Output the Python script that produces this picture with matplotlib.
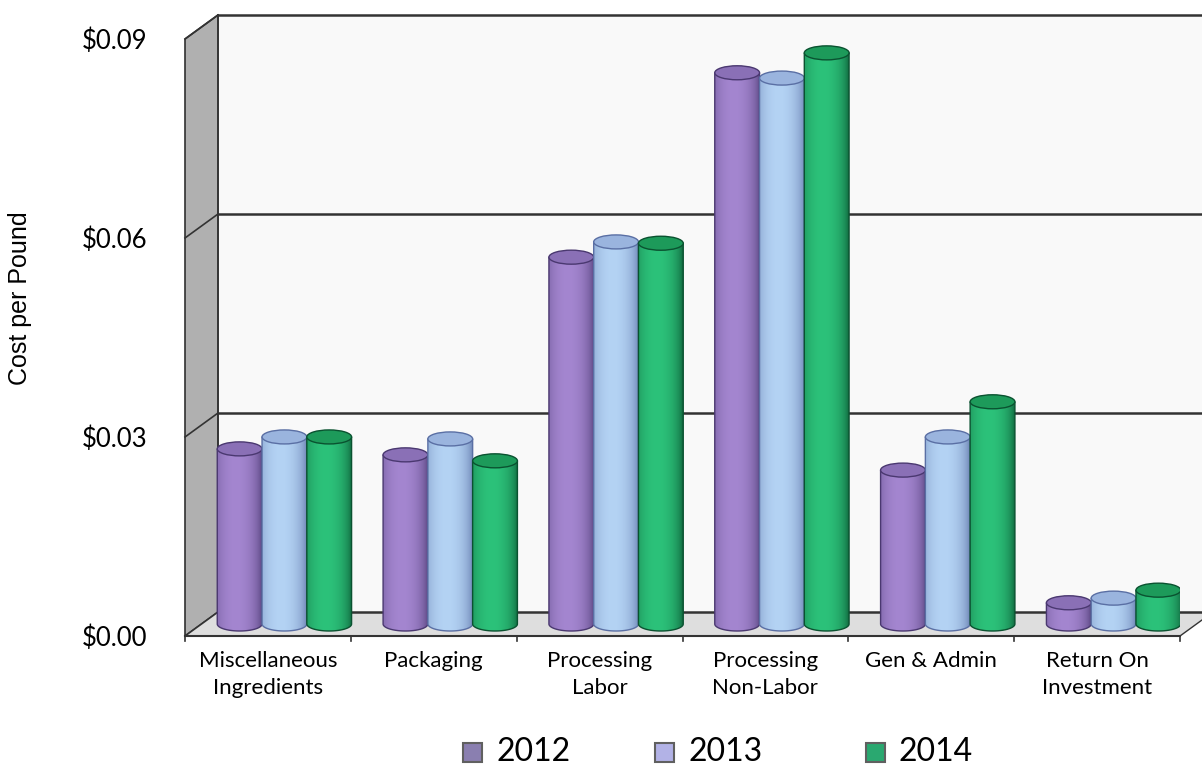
import matplotlib
matplotlib.use("Agg")
import matplotlib.pyplot as plt
import numpy as np
from matplotlib.patches import Polygon, Ellipse, PathPatch, Rectangle
from matplotlib.path import Path
from matplotlib.colors import to_rgb

categories = ["Miscellaneous\nIngredients", "Packaging", "Processing\nLabor",
              "Processing\nNon-Labor", "Gen & Admin", "Return On\nInvestment"]
years = ["2012", "2013", "2014"]
cost_2012 = [0.0264, 0.0255, 0.0553, 0.0831, 0.0232, 0.0032]
cost_2013 = [0.0282, 0.0279, 0.0576, 0.0823, 0.0282, 0.0039]
cost_2014 = [0.0282, 0.0246, 0.0574, 0.0861, 0.0335, 0.0051]
yticks = [0.0, 0.03, 0.06, 0.09]
ytick_labels = ["$0.00", "$0.03", "$0.06", "$0.09"]

series = [cost_2012, cost_2013, cost_2014]
dark_cols = ["#4a3870", "#5a6fa4", "#0a5230"]
light_cols = ["#a486d0", "#b4d3f4", "#2cc27a"]
top_cols = ["#8a70b6", "#9ab4de", "#1d9a5a"]
legend_cols = ["#8a7fb0", "#b2b2e6", "#2aa870"]

W, H = 1202, 780
plt.rcParams['font.family'] = ['Lato', 'DejaVu Sans']
fig = plt.figure(figsize=(W / 100, H / 100), dpi=100)
ax = fig.add_axes([185 / W, 144 / H, 995 / W, 597 / H])
ymax = 0.09
ax.set_xlim(0, 6)
ax.set_ylim(0, ymax)

# depth of the 3d box, in data units
DX = 6 * 33 / 995
DY = ymax * 24 / 597
ell_h = ymax * 14 / 597

# back wall, side wall and floor
ax.add_patch(Polygon([(DX, DY), (6 + DX, DY), (6 + DX, ymax + DY), (DX, ymax + DY)],
                     closed=True, fc="#f9f9f9", ec="none", zorder=1, clip_on=False))
ax.add_patch(Polygon([(0, 0), (DX, DY), (DX, ymax + DY), (0, ymax)],
                     closed=True, fc="#b0b0b0", ec="#303030", lw=1.2, zorder=1.2, clip_on=False))
ax.add_patch(Polygon([(0, 0), (6, 0), (6 + DX, DY), (DX, DY)],
                     closed=True, fc="#dedede", ec="none", zorder=1.3, clip_on=False))
for v in yticks:
    ax.plot([DX, 6 + DX], [v + DY, v + DY], color="#333333", lw=1.8, zorder=1.5, clip_on=False)
    ax.plot([0, DX], [v, v + DY], color="#333333", lw=1.2, zorder=1.5, clip_on=False)
ax.plot([DX, DX], [DY, ymax + DY], color="#333333", lw=1.2, zorder=1.5, clip_on=False)
ax.plot([0, 6], [0, 0], color="#333333", lw=1.5, zorder=1.6, clip_on=False)
ax.plot([6, 6 + DX], [0, DY], color="#333333", lw=1.0, zorder=1.6, clip_on=False)
for k in range(7):
    ax.plot([k, k], [0, -ymax * 5 / 597], color="#333333", lw=1.2, zorder=1.6, clip_on=False)

# cylinders
bar_w = 0.27
t = np.linspace(0, 1, 64)
shade = np.clip(1 - ((t - 0.42) / 0.6) ** 2, 0, 1) ** 0.55
theta = np.linspace(np.pi, 2 * np.pi, 40)
for j, vals in enumerate(series):
    d = np.array(to_rgb(dark_cols[j]))
    l = np.array(to_rgb(light_cols[j]))
    grad = d[None, :] + (l - d)[None, :] * shade[:, None]
    for i, v in enumerate(vals):
        xc = i + 0.5 + (j - 1) * bar_w + DX / 2
        xl, xr = xc - bar_w / 2, xc + bar_w / 2
        y0 = DY / 2
        top = v + DY / 2
        bx = xc + bar_w / 2 * np.cos(theta)
        by = y0 + ell_h / 2 * np.sin(theta)
        verts = [(xl, top)] + list(zip(bx, by)) + [(xr, top), (xl, top)]
        body = PathPatch(Path(verts, closed=True), fc="none", ec=dark_cols[j],
                         lw=1.0, zorder=3 + i * 0.1 + j * 0.01, transform=ax.transData)
        im = ax.imshow(grad[None, :, :], extent=(xl, xr, y0 - ell_h, top), aspect="auto",
                       interpolation="bilinear", zorder=3 + i * 0.1 + j * 0.01)
        im.set_clip_path(body)
        ax.add_patch(body)
        ax.add_patch(Ellipse((xc, top), bar_w, ell_h, fc=top_cols[j], ec=dark_cols[j],
                             lw=1.0, zorder=3.005 + i * 0.1 + j * 0.01))

ax.set_xlim(0, 6)
ax.set_ylim(0, ymax)
for s in ax.spines.values():
    s.set_visible(False)
ax.set_yticks(yticks)
ax.set_yticklabels(ytick_labels, fontsize=18.5)
ax.set_xticks(np.arange(6) + 0.5)
ax.set_xticklabels(categories, fontsize=16, linespacing=1.4)
ax.tick_params(axis="y", length=0, pad=27)
ax.tick_params(axis="x", length=0, pad=11)
fig.text(20 / W, 1 - 298 / H, "Cost per Pound", rotation=90, ha="center", va="center",
         fontsize=18, family=["Liberation Sans"])

# legend
sq_x = [463, 655, 866]
for j, name in enumerate(years):
    fig.add_artist(Rectangle((sq_x[j] / W, (H - 762) / H), 19 / W, 19 / H,
                             transform=fig.transFigure, fc=legend_cols[j], ec="#606060", lw=1.5))
    fig.text((sq_x[j] + 33) / W, (H - 752) / H, name, ha="left", va="center", fontsize=23)

fig.savefig("out.png", dpi=100, facecolor="white")
